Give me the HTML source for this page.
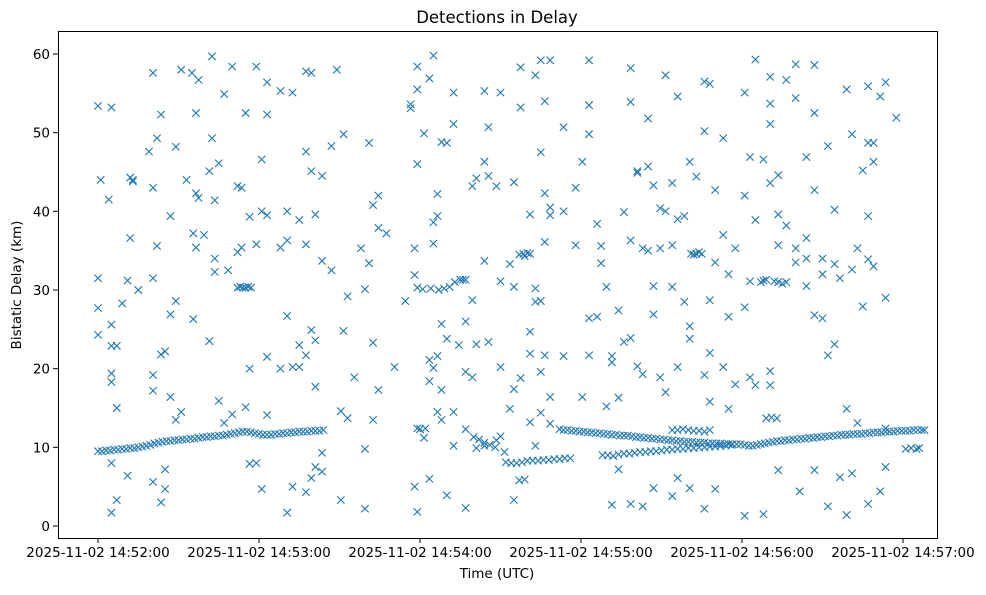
<!DOCTYPE html>
<html><head><meta charset="utf-8"><style>
body{margin:0;background:#fff;}
svg text{font-family:"DejaVu Sans","Liberation Sans",sans-serif;fill:#000;}
</style></head><body>
<svg id="chart" width="986" height="590" xmlns="http://www.w3.org/2000/svg">
<rect width="986" height="590" fill="#fff"/>
<text x="497" y="23" font-size="16.5" text-anchor="middle">Detections in Delay</text>
<text x="497" y="578" font-size="13.5" text-anchor="middle">Time (UTC)</text>
<text x="0" y="0" font-size="13.5" text-anchor="middle" transform="translate(21,285) rotate(-90)">Bistatic Delay (km)</text>
<g id="marks"></g>
<g id="axes"></g>
<rect x="58.5" y="31.5" width="879" height="507" fill="none" stroke="#000" stroke-width="1"/>
</svg>
<script>
const xTickSeconds=[0,60,120,180,240,300];
const xTickLabels=["2025-11-02 14:52:00","2025-11-02 14:53:00","2025-11-02 14:54:00","2025-11-02 14:55:00","2025-11-02 14:56:00","2025-11-02 14:57:00"];
const yTicks=[0,10,20,30,40,50,60];
// scattered detections: time (s after 14:52:00) and delays (km) at that time
const times=[0,1,4,5,7,9,11,12,13,15,19,20.5,22,23.5,25,27,29,31,33,35,35.5,36.5,37.5,39.5,41.5,42.5,43.5,45,47,48.5,50,52,53.5,55,56.5,59,61,63,68,70.5,72.5,75,77.5,79.5,81,83.5,87,89,90.5,91.5,93,95.5,98,99.5,101,102.5,104.5,107.5,110.5,114.5,116.5,118,119,121.5,123.5,125,126.5,128,130,132.5,134.5,137,139.5,141,144,145.5,148.5,150,151.5,153.5,155,157.5,159,161,163,165,166.5,168.5,173.5,178,180.5,183,186,187.5,189.5,191.5,194,196,198.5,201,203,205,207,209.5,211.5,214,216,218.5,220.5,223,226,228,230,233,235,237.5,241,243,245,248,250.5,253.5,256.5,260,261.5,264,267,270,272,274.5,276.5,279,281,283,285,287,289,291.5,293.5,297.5];
const delays=[
[53.4,31.5,27.7,24.3],[44.0],[41.5],[53.2,18.3,19.4,25.6,22.9,1.7,8.0],[22.9,15.0,3.3],[28.3],[31.2,6.4],[44.3,36.6],[43.8,44.0],[30.0],
[47.6],[57.6,43.0,31.5,19.2,17.2,5.6],[49.3,35.6],[52.3,21.8,3.0],[22.2,7.2,4.7],[39.4,26.9,16.4],[48.2,28.6,13.5],[58.0,14.5],[44.0],[57.6],
[26.3,37.2],[52.5,42.3,35.4],[56.7,41.7],[37.0],[23.5,45.1],[59.7,49.3],[34.0,32.3,41.4],[46.1,15.9],[54.9,13.1],[32.5],
[58.4,14.2],[43.2,34.8],[43.0,35.4],[52.5,15.1],[20.0,39.3,7.9],[58.4,35.8,8.0],[46.6,40.0,4.7],[56.4,52.3,39.5,21.5,14.1],[55.3,35.4,20.0],[26.7,1.7,36.3,40.0],
[55.1,20.2,5.0],[38.9,20.2,23.0],[57.8,47.6,35.8,21.7,4.3],[57.6,45.1,24.9,6.1],[39.6,23.6,17.7,7.5],[44.5,33.7,9.3,6.9],[48.3,32.5],[58.0],[3.3,14.6],[49.8,24.8],
[13.7,29.2],[18.9],[35.3],[30.1,2.2,9.8],[48.7,33.4],[40.8,23.3,13.5],[42.0,37.9,17.3],[37.2],[20.2],[28.6],
[53.6,53.1],[35.3,31.9,5.0],[58.4,55.5,1.8,46.0],[49.9,11.2],[56.9,21.1,18.4,6.0],[59.8,35.9,38.6,20.1],[42.2,39.4,21.6,14.5],[48.8,25.7,13.5,17.3],[48.7,23.8,3.9],[55.1,51.1,14.5,10.2],
[23.0],[26.0,19.6,12.3,2.3],[43.2,28.7,18.9],[44.2,23.1,9.9],[55.3,46.3,33.7,10.2],[50.7,44.5,23.4],[43.2,10.9],[55.1,31.1,20.2,11.4],[9.4],[33.3,14.9],
[43.7,30.4,17.4,3.3],[58.3,53.2,18.8],[34.3],[39.6,24.7,13.2,21.9],[57.3,30.2,28.5,10.2],[59.2,47.5,28.6,14.4,19.6],[54.0,36.1,42.3,21.7],[59.2,40.5,39.5,13.0,16.4],[40.0,50.7,21.6],[43.0,35.7],
[46.3,16.4],[59.2,53.5,49.8,26.4,21.7],[38.4,26.6],[35.6,33.4],[30.4,15.2],[21.6,20.8,2.7],[27.4,16.3,7.2],[39.9,23.4],[58.2,53.9,36.3,2.8,23.9],[45.1,44.9,20.3],
[35.3,19.3,2.5],[51.8,45.7,35.0],[43.3,30.5,26.9,4.8],[35.3,40.4,18.9],[57.3,40.0,17.0],[43.6,30.4,3.8,35.7],[54.6,39.0,20.2,6.1],[39.4,28.5],[46.3,25.4,23.8,4.8],[34.6,44.4],
[56.5,50.2,19.2,2.2],[56.2,28.7,22.0,15.8],[42.7,4.7,33.5],[49.3,37.0,20.2],[32.0,26.6,14.9],[35.3,18.0],[55.1,42.0,27.8,1.3],[46.9,31.1,18.9],[59.3,38.9,17.9],[46.6,31.2,1.5],
[57.1,53.7,51.1,43.6,19.7,17.9],[44.6,39.6,35.7,31.0,7.1],[56.7,31.0,38.2],[58.7,54.4,35.3,33.5],[4.4],[46.9,36.6,34.0,30.5],[58.6,52.5,42.7,26.8,7.1],[26.4,34.0,32.0],[48.3,21.7,2.5],[40.2,23.1,33.3],
[31.5,6.2],[55.5,14.9,1.4],[49.8,32.6,6.7],[35.3,13.1],[45.2,27.9],[55.9,48.7,33.9,39.4,2.8],[48.7,46.3,33.0],[54.6,4.4],[56.4,29.0,12.4,7.5],[51.9]
];
// dense track detections as [time s, delay km]
const trackA=[[0,9.5],[1.5,9.5],[3,9.6],[4.5,9.6],[6,9.7],[7.5,9.7],[9,9.8],[10.5,9.8],[12,9.9],[13.5,9.9],[15,10.0],[16.5,10.1],[18,10.2],[19.5,10.3],[21,10.5],[22.5,10.6],[24,10.7],[25.5,10.8],[27,10.8],[28.5,10.9],[30,10.9],[31.5,11.0],[33,11.0],[34.5,11.1],[36,11.1],[37.5,11.2],[39,11.3],[40.5,11.3],[42,11.4],[43.5,11.4],[45,11.5],[46.5,11.5],[48,11.6],[49.5,11.7],[51,11.8],[52.5,11.9],[54,12.0],[55.5,12.0],[57,11.9],[58.5,11.8],[60,11.7],[61.5,11.6],[63,11.6],[64.5,11.6],[66,11.7],[67.5,11.7],[69,11.8],[70.5,11.8],[72,11.9],[73.5,11.9],[75,12.0],[76.5,12.0],[78,12.0],[79.5,12.1],[81,12.1],[82.5,12.1],[84,12.2]];
const trackB=[[52,30.3],[53,30.4],[54,30.3],[55,30.3],[56,30.4],[57,30.3],[119,30.3],[121,30.1],[124,30.2],[127,30.0],[129,30.2],[131,30.4],[133,31.0],[135,31.3],[136,31.3],[137,31.3],[119,12.4],[120,12.3],[122,12.4],[140,11.3],[142,11.0],[144,10.6],[146,10.3],[148,10.0],[152,8.1],[154,8.0],[156,8.0],[158,8.1],[160,8.3],[162,8.3],[164,8.3],[166,8.4],[168,8.4],[170,8.5],[172,8.5],[174,8.6],[176,8.6],[157,5.8],[159,5.9],[157,34.5],[158.5,34.6],[160,34.7],[161,34.6]];
const trackC=[[172,12.3],[173.5,12.2],[175,12.2],[176.5,12.1],[178,12.1],[179.5,12.0],[181,12.0],[182.5,11.9],[184,11.9],[185.5,11.8],[187,11.8],[188.5,11.7],[190,11.7],[191.5,11.6],[193,11.6],[194.5,11.5],[196,11.5],[197.5,11.5],[199,11.4],[200.5,11.3],[202,11.3],[203.5,11.2],[205,11.2],[206.5,11.1],[208,11.1],[209.5,11.0],[211,11.0],[212.5,10.9],[214,10.9],[215.5,10.8],[217,10.8],[218.5,10.7],[220,10.7],[221.5,10.7],[223,10.6],[224.5,10.6],[226,10.6],[227.5,10.5],[229,10.5],[230.5,10.5],[232,10.5],[233.5,10.4],[235,10.4],[236.5,10.4],[238,10.4],[239.5,10.4],
[188,9.0],[190,9.0],[192,8.9],[194,9.1],[196,9.2],[198,9.2],[200,9.3],[202,9.4],[204,9.4],[206,9.5],[208,9.5],[210,9.6],[212,9.7],[214,9.7],[216,9.8],[218,9.8],[220,9.9],[222,9.9],[224,10.0],[226,10.0],[228,10.1],[230,10.1],[232,10.2],[234,10.2],[236,10.3],
[214,12.2],[216,12.2],[218,12.3],[220,12.2],[222,12.1],[224,12.1],[226,12.0],[228,12.2],[221,34.6],[222,34.5],[224,34.8],[225,34.6]];
const trackD=[[241,10.3],[242.5,10.2],[244,10.2],[245.5,10.3],[247,10.4],[248.5,10.5],[250,10.6],[251.5,10.7],[253,10.8],[254.5,10.8],[256,10.9],[257.5,10.9],[259,11.0],[260.5,11.0],[262,11.1],[263.5,11.1],[265,11.2],[266.5,11.2],[268,11.3],[269.5,11.3],[271,11.4],[272.5,11.4],[274,11.5],[275.5,11.5],[277,11.6],[278.5,11.6],[280,11.6],[281.5,11.7],[283,11.7],[284.5,11.7],[286,11.8],[287.5,11.8],[289,11.9],[290.5,11.9],[292,11.9],[293.5,12.0],[295,12.0],[296.5,12.0],[298,12.1],[299.5,12.1],[301,12.1],[302.5,12.1],[304,12.2],[305.5,12.2],[307,12.2],[308,12.2],
[301,9.8],[303,9.9],[305,9.8],[306,9.9],[249,13.7],[251,13.8],[253,13.7],[247,31.0],[249,31.3],[252,31.1],[255,30.8]];

const NS="http://www.w3.org/2000/svg";
function xScale(s){return 98+s*(805/300);}
function yScale(d){return 526-d*(472/60);}
const marks=document.getElementById('marks');
const axes=document.getElementById('axes');
function mk(tag,attrs,parent){const e=document.createElementNS(NS,tag);for(const k in attrs)e.setAttribute(k,attrs[k]);parent.appendChild(e);return e;}
function marker(t,d){
  const cx=xScale(t),cy=yScale(d),r=3.7;
  const p=document.createElementNS(NS,'path');
  p.setAttribute('d',`M${cx-r},${cy-r}L${cx+r},${cy+r}M${cx-r},${cy+r}L${cx+r},${cy-r}`);
  p.setAttribute('stroke','#1f77b4');p.setAttribute('stroke-width','1.1');p.setAttribute('fill','none');
  
  
  marks.appendChild(p);
}
times.forEach((t,i)=>{(delays[i]||[]).forEach(d=>marker(t,d));});
[trackA,trackB,trackC,trackD].forEach(tr=>tr.forEach(p=>marker(p[0],p[1])));
xTickSeconds.forEach((s,i)=>{
  const x=xScale(s);
  const l=mk('line',{x1:x,x2:x,y1:538,y2:543,stroke:'#000'},axes);
  
  
  const t=mk('text',{x:x,y:557,'font-size':'13.5','text-anchor':'middle'},axes);
  t.textContent=xTickLabels[i];
  
  
});
yTicks.forEach(v=>{
  const y=yScale(v);
  const l=mk('line',{x1:53,x2:58,y1:y,y2:y,stroke:'#000'},axes);
  
  
  const t=mk('text',{x:50,y:y+5,'font-size':'13.5','text-anchor':'end'},axes);
  t.textContent=v;
  
  
});
</script>
</body></html>
